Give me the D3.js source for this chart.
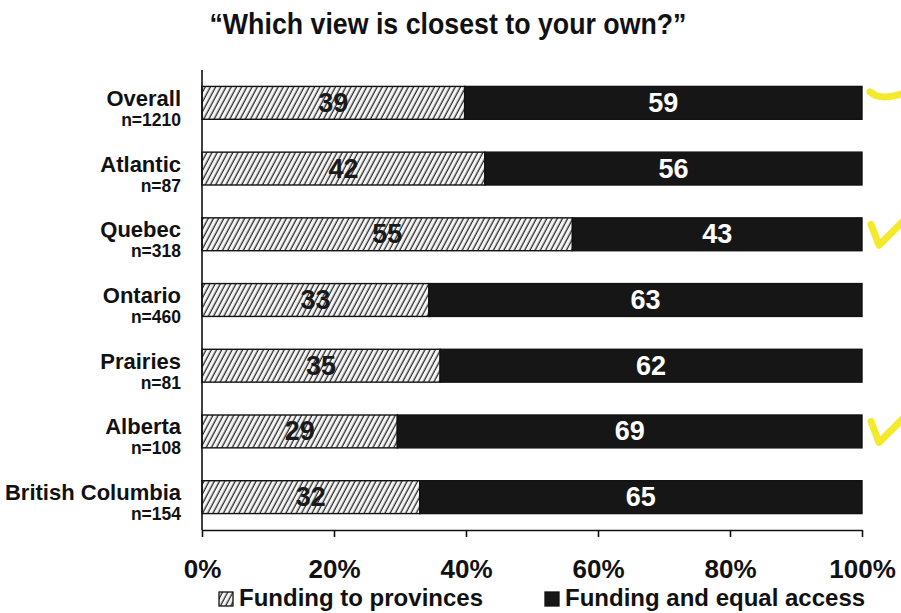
<!DOCTYPE html>
<html>
<head>
<meta charset="utf-8">
<script src="https://cdn.jsdelivr.net/npm/d3@7"></script>
<style>
  body { margin: 0; background: #fff; }
  svg { display: block; }
  text { font-family: "Liberation Sans", Arial, sans-serif; fill: #111; }
</style>
</head>
<body>
<svg id="chart" width="901" height="613"></svg>
<script>
// Survey results: share choosing each view, by region
const regions = ["Overall", "Atlantic", "Quebec", "Ontario", "Prairies", "Alberta", "British Columbia"];
const sampleSizes = [1210, 87, 318, 460, 81, 108, 154];
const fundingToProvinces = [39, 42, 55, 33, 35, 29, 32];
const fundingAndEqualAccess = [59, 56, 43, 63, 62, 69, 65];
const seriesNames = ["Funding to provinces", "Funding and equal access"];
const xTickValues = [0, 0.2, 0.4, 0.6, 0.8, 1];
const ticked = ["Overall", "Quebec", "Alberta"];

const W = 901, H = 613;
const margin = { top: 70, right: 39, bottom: 83, left: 202 };

const svg = d3.select("#chart");

// diagonal hatch for the first series
const defs = svg.append("defs");
const hatch = defs.append("pattern")
  .attr("id", "hatch")
  .attr("patternUnits", "userSpaceOnUse")
  .attr("width", 4.6).attr("height", 8)
  .attr("patternTransform", "rotate(28)");
hatch.append("rect").attr("width", 4.6).attr("height", 8).attr("fill", "#f4f4f4");
hatch.append("line")
  .attr("x1", 1.2).attr("y1", 0).attr("x2", 1.2).attr("y2", 8)
  .attr("stroke", "#2a2a2a").attr("stroke-width", 1.3);

const rows = regions.map((r, i) => ({
  region: r,
  n: sampleSizes[i],
  prov: fundingToProvinces[i],
  access: fundingAndEqualAccess[i]
}));

const keys = ["prov", "access"];
const stacked = d3.stack().keys(keys).offset(d3.stackOffsetExpand)(rows);

const x = d3.scaleLinear().domain([0, 1]).range([margin.left, W - margin.right]);
const y = d3.scaleBand().domain(regions)
  .range([margin.top, H - margin.bottom])
  .paddingInner(0.5).paddingOuter(0.25);

const fills = { prov: "url(#hatch)", access: "#161616" };
const labelFill = { prov: "#1a1a1a", access: "#ffffff" };

// Title
svg.append("text")
  .attr("x", 448).attr("y", 34)
  .attr("text-anchor", "middle")
  .attr("textLength", 477)
  .attr("lengthAdjust", "spacingAndGlyphs")
  .style("font-weight", "bold")
  .style("font-size", "29px")
  .text("\u201CWhich view is closest to your own?\u201D");

// Bars
const layers = svg.append("g").selectAll("g")
  .data(stacked).join("g");

layers.selectAll("rect")
  .data(s => s.map(d => ({ key: s.key, d })))
  .join("rect")
  .attr("x", o => x(o.d[0]))
  .attr("y", o => y(o.d.data.region))
  .attr("width", o => x(o.d[1]) - x(o.d[0]))
  .attr("height", y.bandwidth())
  .attr("fill", o => fills[o.key])
  .attr("stroke", "#111")
  .attr("stroke-width", 1.4);

// Value labels centred in each segment
layers.selectAll("text")
  .data(s => s.map(d => ({ key: s.key, d })))
  .join("text")
  .attr("x", o => (x(o.d[0]) + x(o.d[1])) / 2)
  .attr("y", o => y(o.d.data.region) + y.bandwidth() / 2 + 9)
  .attr("text-anchor", "middle")
  .style("font-weight", "bold")
  .style("font-size", "27px")
  .style("fill", o => labelFill[o.key])
  .text(o => o.d.data[o.key]);

// Category labels with sample sizes
const cat = svg.append("g").selectAll("g").data(rows).join("g")
  .attr("transform", d => `translate(181,${y(d.region) + y.bandwidth() / 2})`);
cat.append("text")
  .attr("y", 3)
  .attr("text-anchor", "end")
  .style("font-weight", "bold")
  .style("font-size", "22px")
  .text(d => d.region);
cat.append("text")
  .attr("y", 23)
  .attr("text-anchor", "end")
  .style("font-weight", "bold")
  .style("font-size", "17.5px")
  .text(d => "n=" + d.n);

// Y axis line
svg.append("line")
  .attr("x1", margin.left).attr("x2", margin.left)
  .attr("y1", margin.top).attr("y2", H - margin.bottom)
  .attr("stroke", "#111").attr("stroke-width", 1.6);

// X axis
const xAxis = svg.append("g")
  .attr("transform", `translate(0,${H - margin.bottom})`)
  .call(d3.axisBottom(x).tickValues(xTickValues)
    .tickFormat(d3.format(".0%")).tickSize(7).tickSizeOuter(0).tickPadding(23));
xAxis.select(".domain").attr("stroke", "#111").attr("stroke-width", 1.6);
xAxis.selectAll(".tick line").attr("stroke", "#111").attr("stroke-width", 1.6);
xAxis.selectAll(".tick text")
  .style("font-family", "'Liberation Sans', Arial, sans-serif")
  .style("font-weight", "bold")
  .style("font-size", "26px")
  .style("fill", "#111");

// Legend
const legendX = [219, 545];
const legend = svg.append("g").selectAll("g").data(keys).join("g")
  .attr("transform", (k, i) => `translate(${legendX[i]},606)`);
legend.append("rect")
  .attr("x", 0).attr("y", -14).attr("width", 14).attr("height", 14)
  .attr("fill", k => fills[k])
  .attr("stroke", "#111").attr("stroke-width", 1.3);
legend.append("text")
  .attr("x", 20).attr("y", 0)
  .style("font-weight", "bold")
  .style("font-size", "24px")
  .text((k, i) => seriesNames[i]);

// Highlighter ticks beside selected regions
const marks = svg.append("g")
  .attr("fill", "none")
  .attr("stroke", "#f3e814")
  .attr("stroke-opacity", 0.9)
  .attr("stroke-width", 7)
  .attr("stroke-linecap", "round")
  .attr("stroke-linejoin", "round");
ticked.forEach((r, i) => {
  const cx = x(1), cy = y(r) + y.bandwidth() / 2;
  const p = d3.path();
  if (i === 0) {
    p.moveTo(cx + 8, cy - 11);
    p.quadraticCurveTo(cx + 18, cy - 2, cx + 40, cy - 9);
  } else {
    p.moveTo(cx + 9, cy - 10);
    p.lineTo(cx + 17, cy + 11);
    p.lineTo(cx + 42, cy - 14);
  }
  marks.append("path").attr("d", p.toString());
});
</script>
</body>
</html>
